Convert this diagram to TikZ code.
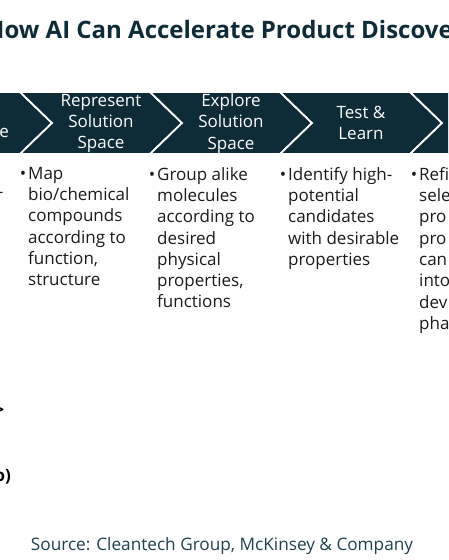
\documentclass[tikz,border=0pt]{standalone}
\usepackage{fontspec}
\setmainfont{Open Sans}
\usetikzlibrary{positioning}
\definecolor{tealdark}{HTML}{0E2B38}
\definecolor{textdark}{HTML}{1A1A1A}
\definecolor{sourceteal}{HTML}{1E4150}
\begin{document}
\begin{tikzpicture}[x=1pt,y=-1pt,
  chevron/.style={fill=tealdark, draw=white, line width=1.8pt, line join=miter},
  steplabel/.style={text=white, align=center, font=\fontsize{17}{21.3}\selectfont, inner sep=0pt},
  bullets/.style={anchor=north west, align=left, font=\fontsize{17}{21.3}\selectfont, inner sep=0pt, text=textdark},
  fragment/.style={anchor=east, inner sep=0pt, font=\fontsize{17}{21.3}\selectfont}]
\useasboundingbox (0,0) rectangle (448,560);
\begin{scope}
\clip (0,0) rectangle (448,560);
% title, cut at both sides
\node[anchor=west, inner sep=0pt, font=\fontsize{24}{28}\selectfont\bfseries, text=tealdark] (title) at (-14,29) {How AI Can Accelerate Product Discove};
% chevrons
\draw[chevron] (-110,92) -- (20,92) -- (52,123) -- (20,154) -- (-110,154) -- (-78,123) -- cycle;
\draw[chevron] (20,92) -- (150,92) -- (182,123) -- (150,154) -- (20,154) -- (52,123) -- cycle;
\draw[chevron] (150,92) -- (280,92) -- (312,123) -- (280,154) -- (150,154) -- (182,123) -- cycle;
\draw[chevron] (280,92) -- (410,92) -- (442,123) -- (410,154) -- (280,154) -- (312,123) -- cycle;
\draw[chevron] (410,92) -- (540,92) -- (572,123) -- (540,154) -- (410,154) -- (442,123) -- cycle;
\node[fragment, text=white] (first) at (9,133) {e};
\node[steplabel] (represent) at (101,123.5) {Represent\\Solution\\Space};
\node[steplabel] (explore) at (231,123.5) {Explore\\Solution\\Space};
\node[steplabel] (test) at (361,123) {Test \&\\Learn};
% bullet columns
\node[fragment, text=textdark] (dash) at (3.5,195) {-};
\node[bullets] (map) at (28,167) {\llap{•\hspace{2pt}}Map\\bio/chemical\\compounds\\according to\\function,\\structure};
\node[bullets] (group) at (157,167) {\llap{•\hspace{2pt}}Group alike\\molecules\\according to\\desired\\physical\\properties,\\functions};
\node[bullets] (identify) at (288,167) {\llap{•\hspace{2pt}}Identify high-\\potential\\candidates\\with desirable\\properties};
\node[bullets] (refine) at (419,167) {\llap{•\hspace{2pt}}Refi\\sele\\pro\\pro\\can\\into\\dev\\pha};
% left edge fragments
\node[fragment, font=\fontsize{16}{20}\selectfont\bfseries] (arrowfrag) at (4.5,410) {>};
\node[fragment, font=\fontsize{17}{20}\selectfont\bfseries] (cofrag) at (11,477) {o)};
% source
\node[font=\fontsize{17.2}{20}\selectfont, text=sourceteal] (source) at (222,546) {Source: Cleantech Group, McKinsey \& Company};
\end{scope}
\end{tikzpicture}
\end{document}
